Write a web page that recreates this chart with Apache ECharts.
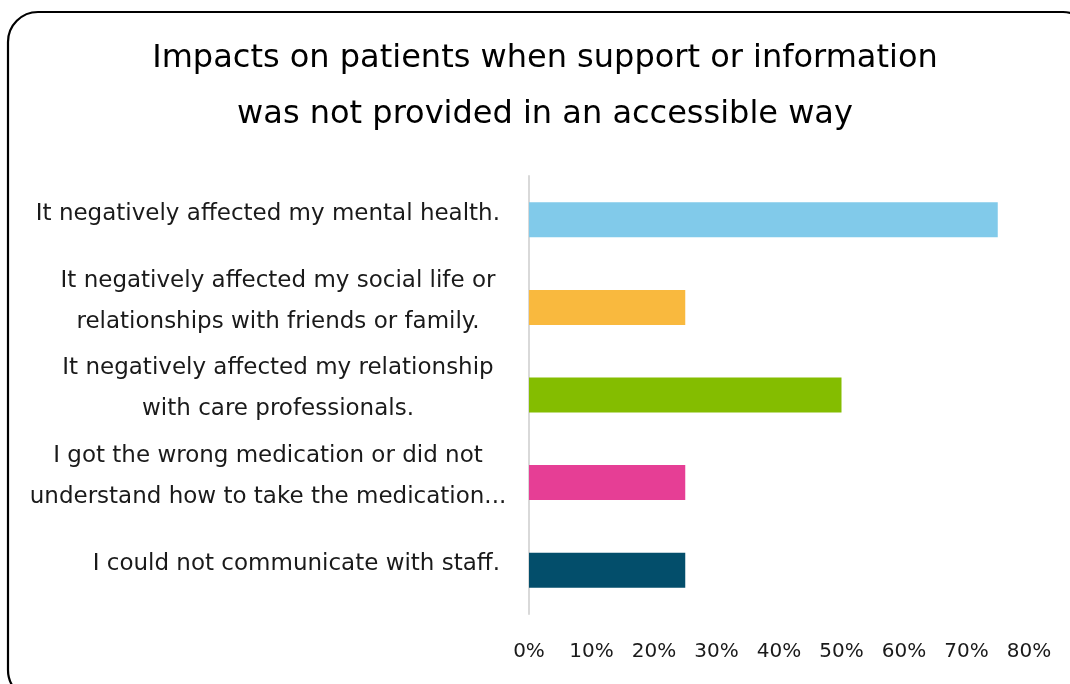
<!DOCTYPE html>
<html>
<head>
<meta charset="utf-8">
<script src="https://cdn.jsdelivr.net/npm/echarts@6/dist/echarts.min.js"></script>
<style>
  html, body { margin: 0; padding: 0; background: #ffffff; }
  #chart { width: 1070px; height: 684px; }
</style>
</head>
<body>
<div id="chart"></div>
<script>
// Survey responses: impacts reported by patients
const titleLines = [
  'Impacts on patients when support or information',
  'was not provided in an accessible way'
];
const categories = [
  'It negatively affected my mental health.',
  'It negatively affected my social life or\nrelationships with friends or family.',
  'It negatively affected my relationship\nwith care professionals.',
  'I got the wrong medication or did not\nunderstand how to take the medication...',
  'I could not communicate with staff.'
];
const percentages = [75, 25, 50, 25, 25];
const barColors = ['#81CAEA', '#F9B93E', '#84BD00', '#E63E95', '#034E6B'];
const axisMax = 80;
const axisStep = 10;

const FONT = '"DejaVu Sans", sans-serif';

// widths of the centred boxes used for wrapped category labels
const wrapBoxWidth = [0, 444, 444, 464, 0];

const rich = {};
wrapBoxWidth.forEach((w, i) => {
  rich['w' + i] = {
    width: w || undefined,
    align: 'center',
    fontFamily: FONT,
    fontSize: 23,
    lineHeight: 41,
    color: '#1a1a1a'
  };
});

const chart = echarts.init(document.getElementById('chart'), null, { renderer: 'canvas' });

chart.setOption({
  backgroundColor: '#ffffff',
  animation: false,
  title: {
    text: titleLines.join('\n'),
    left: 540,
    textAlign: 'center',
    top: 26,
    textStyle: {
      fontFamily: FONT,
      fontSize: 32,
      fontWeight: 'normal',
      lineHeight: 56,
      color: '#000000'
    }
  },
  graphic: [{
    type: 'rect',
    shape: { x: 8, y: 12, width: 1085, height: 688, r: 30 },
    style: { fill: 'none', stroke: '#000000', lineWidth: 2.2 },
    silent: true
  }],
  grid: { left: 529, right: 41, top: 176, bottom: 70, containLabel: false },
  xAxis: {
    type: 'value',
    min: 0,
    max: axisMax,
    interval: axisStep,
    axisLine: { show: false },
    axisTick: { show: false },
    splitLine: { show: false },
    axisLabel: {
      formatter: '{value}%',
      fontFamily: FONT,
      fontSize: 20,
      color: '#1a1a1a',
      margin: 28
    }
  },
  yAxis: {
    type: 'category',
    inverse: true,
    data: categories,
    axisLine: { show: true, lineStyle: { color: '#d9d9d9', width: 2 } },
    axisTick: { show: false },
    axisLabel: {
      margin: 29,
      padding: [0, 0, 12, 0],
      fontFamily: FONT,
      fontSize: 23,
      lineHeight: 41,
      color: '#1a1a1a',
      formatter: function (value, idx) {
        if (value.indexOf('\n') < 0) return value;
        return value.split('\n').map(s => '{w' + idx + '|' + s + '}').join('\n');
      },
      rich: rich
    }
  },
  series: [{
    type: 'bar',
    data: percentages.map((v, i) => ({ value: v, itemStyle: { color: barColors[i] } })),
    barWidth: '40%'
  }]
});
</script>
</body>
</html>
